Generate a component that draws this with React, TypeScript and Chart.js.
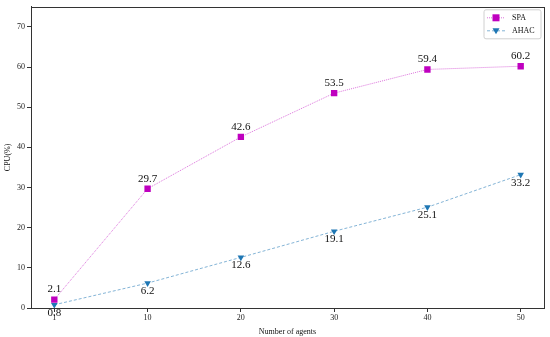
import React, { useEffect, useRef } from "react";
import { Chart, registerables } from "chart.js";

Chart.register(...registerables);

const categories = ["1", "10", "20", "30", "40", "50"];
const spaValues = [2.1, 29.7, 42.6, 53.5, 59.4, 60.2];
const ahacValues = [0.8, 6.2, 12.6, 19.1, 25.1, 33.2];
const seriesNames = ["SPA", "AHAC"];
const yTicks = [0, 10, 20, 30, 40, 50, 60, 70];

const FONT = "'Liberation Serif', 'DejaVu Serif', serif";
const SPA_COLOR = "#bf00bf";
const SPA_LINE = "rgba(191,0,191,0.55)";
const AHAC_COLOR = "#1f77b4";
const AHAC_LINE = "rgba(31,119,180,0.55)";

const framePlugin = {
  id: "frame",
  afterDraw(chart: any) {
    const { ctx, chartArea: a } = chart;
    ctx.save();
    ctx.strokeStyle = "#333";
    ctx.lineWidth = 1;
    ctx.strokeRect(Math.round(a.left) + 0.5, Math.round(a.top) + 0.5, Math.round(a.right - a.left), Math.round(a.bottom - a.top));
    ctx.restore();
  },
};

const labelPlugin = {
  id: "pointLabels",
  afterDatasetsDraw(chart: any) {
    const { ctx } = chart;
    ctx.save();
    ctx.font = `11px ${FONT}`;
    ctx.fillStyle = "#111";
    ctx.textAlign = "center";
    ctx.textBaseline = "middle";
    chart.data.datasets.forEach((ds: any, di: number) => {
      const meta = chart.getDatasetMeta(di);
      meta.data.forEach((pt: any, i: number) => {
        const v = ds.data[i].y;
        const dy = di === 0 ? -10 : 8;
        ctx.fillText(v.toFixed(1), pt.x, pt.y + dy);
      });
    });
    ctx.restore();
  },
};

const legendPlugin = {
  id: "customLegend",
  afterDraw(chart: any) {
    const { ctx, chartArea: a } = chart;
    const x0 = a.right - 60;
    const y0 = a.top + 3;
    const w = 57;
    const h = 29;
    ctx.save();
    ctx.fillStyle = "rgba(255,255,255,0.8)";
    ctx.strokeStyle = "#d0d0d0";
    ctx.lineWidth = 1;
    const r = 2;
    ctx.beginPath();
    ctx.moveTo(x0 + r, y0);
    ctx.lineTo(x0 + w - r, y0);
    ctx.quadraticCurveTo(x0 + w, y0, x0 + w, y0 + r);
    ctx.lineTo(x0 + w, y0 + h - r);
    ctx.quadraticCurveTo(x0 + w, y0 + h, x0 + w - r, y0 + h);
    ctx.lineTo(x0 + r, y0 + h);
    ctx.quadraticCurveTo(x0, y0 + h, x0, y0 + h - r);
    ctx.lineTo(x0, y0 + r);
    ctx.quadraticCurveTo(x0, y0, x0 + r, y0);
    ctx.closePath();
    ctx.fill();
    ctx.stroke();
    const rows = [
      { name: seriesNames[0], line: SPA_LINE, color: SPA_COLOR, dash: [1, 1], y: y0 + 8 },
      { name: seriesNames[1], line: AHAC_LINE, color: AHAC_COLOR, dash: [3, 2], y: y0 + 21 },
    ];
    rows.forEach((row, i) => {
      ctx.strokeStyle = row.line;
      ctx.setLineDash(row.dash);
      ctx.beginPath();
      ctx.moveTo(x0 + 3, row.y);
      ctx.lineTo(x0 + 21, row.y);
      ctx.stroke();
      ctx.setLineDash([]);
      ctx.fillStyle = row.color;
      const mx = x0 + 12;
      if (i === 0) {
        ctx.fillRect(mx - 3.5, row.y - 3.5, 7, 7);
      } else {
        ctx.beginPath();
        ctx.moveTo(mx - 3.5, row.y - 2.5);
        ctx.lineTo(mx + 3.5, row.y - 2.5);
        ctx.lineTo(mx, row.y + 3.5);
        ctx.closePath();
        ctx.fill();
      }
      ctx.fillStyle = "#111";
      ctx.font = `8px ${FONT}`;
      ctx.textAlign = "left";
      ctx.textBaseline = "middle";
      ctx.fillText(row.name, x0 + 28, row.y);
    });
    ctx.restore();
  },
};

export default function App() {
  const ref = useRef<HTMLCanvasElement | null>(null);
  useEffect(() => {
    document.body.style.margin = "0";
    const canvas = ref.current;
    if (!canvas) return;
    const chart = new Chart(canvas, {
      type: "line",
      data: {
        datasets: [
          {
            label: seriesNames[0],
            data: spaValues.map((v, i) => ({ x: i, y: v })),
            borderColor: SPA_LINE,
            borderWidth: 1,
            borderDash: [1, 1],
            pointStyle: "rect",
            pointRadius: 4.5,
            pointBackgroundColor: SPA_COLOR,
            pointBorderColor: SPA_COLOR,
            pointBorderWidth: 0,
            fill: false,
            tension: 0,
          },
          {
            label: seriesNames[1],
            data: ahacValues.map((v, i) => ({ x: i, y: v })),
            borderColor: AHAC_LINE,
            borderWidth: 1,
            borderDash: [3, 2],
            pointStyle: "triangle",
            rotation: 180,
            pointRadius: 3.8,
            pointBackgroundColor: AHAC_COLOR,
            pointBorderColor: AHAC_COLOR,
            pointBorderWidth: 0,
            fill: false,
            tension: 0,
          },
        ],
      },
      options: {
        animation: false,
        responsive: false,
        maintainAspectRatio: false,
        layout: { padding: { top: 4, right: 6, left: 0, bottom: 0 } },
        plugins: { legend: { display: false }, tooltip: { enabled: false } },
        scales: {
          x: {
            type: "linear",
            min: -0.25,
            max: 5.25,
            afterFit(scale: any) {
              scale.height = 29;
            },
            afterBuildTicks(scale: any) {
              scale.ticks = categories.map((_, i) => ({ value: i }));
            },
            ticks: {
              callback: (v: any) => categories[v] ?? "",
              font: { family: FONT, size: 8 },
              color: "#222",
              padding: 1,
              maxRotation: 0,
            },
            grid: { drawOnChartArea: false, drawTicks: true, tickLength: 4, tickColor: "#333" },
            border: { display: true, color: "#333" },
            title: {
              display: true,
              text: "Number of agents",
              font: { family: FONT, size: 8 },
              color: "#111",
              padding: { top: 0, bottom: 0 },
            },
          },
          y: {
            min: 0,
            max: 75,
            afterFit(scale: any) {
              scale.width = 31;
            },
            afterBuildTicks(scale: any) {
              scale.ticks = yTicks.map((v) => ({ value: v }));
            },
            ticks: {
              font: { family: FONT, size: 8 },
              color: "#222",
              padding: 2,
            },
            grid: { drawOnChartArea: false, drawTicks: true, tickLength: 4, tickColor: "#333" },
            border: { display: true, color: "#333" },
            title: {
              display: true,
              text: "CPU(%)",
              font: { family: FONT, size: 8 },
              color: "#111",
              padding: { top: 3, bottom: 0 },
            },
          },
        },
      },
      plugins: [framePlugin, labelPlugin, legendPlugin],
    } as any);
    return () => chart.destroy();
  }, []);
  return (
    <div style={{ position: "absolute", left: 0, top: 0, width: 550, height: 337 }}>
      <canvas ref={ref} width={550} height={337} style={{ width: 550, height: 337 }} />
    </div>
  );
}
